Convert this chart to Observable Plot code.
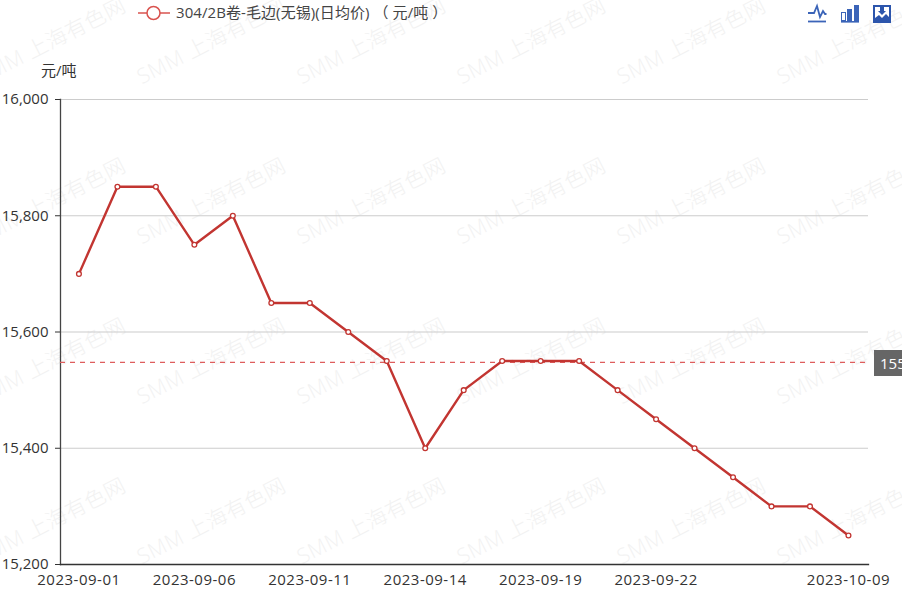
<!DOCTYPE html>
<html><head><meta charset="utf-8">
<script src="https://cdn.jsdelivr.net/npm/d3@7"></script>
<script src="https://cdn.jsdelivr.net/npm/@observablehq/plot@0.6"></script>
<style>
html,body{margin:0;padding:0;background:#fff}
#root{position:relative;width:902px;height:601px;overflow:hidden;font-family:"Open Sans","Noto Sans CJK SC",sans-serif;color:#333}
#root svg.chart{position:absolute;left:0;top:0;background:transparent}
#root svg.chart g[aria-label="x-axis tick label"] text{letter-spacing:.5px}
.wm{position:absolute;font-size:21px;font-weight:300;color:#f2f2f2;white-space:nowrap;transform:rotate(-27deg);transform-origin:left bottom;letter-spacing:.6px;line-height:26px}
.legend{position:absolute;left:138px;top:2px;font-size:15px;color:#444;white-space:nowrap;line-height:20px;display:flex;align-items:center;letter-spacing:.08px}
.unit{position:absolute;left:41px;top:60px;font-size:15px;color:#333;line-height:20px}
.markLabel{position:absolute;left:874px;width:60px;height:26px;background:#666;color:#fff;font-size:15px;line-height:26px;padding-left:6px}
.tools{position:absolute;left:0;top:0}
</style></head><body><div id="root"></div>
<script>
const dates=["2023-09-01","2023-09-04","2023-09-05","2023-09-06","2023-09-07","2023-09-08","2023-09-11","2023-09-12","2023-09-13","2023-09-14","2023-09-15","2023-09-18","2023-09-19","2023-09-20","2023-09-21","2023-09-22","2023-09-25","2023-09-26","2023-09-27","2023-09-28","2023-10-09"];
const prices=[15700,15850,15850,15750,15800,15650,15650,15600,15550,15400,15500,15550,15550,15550,15500,15450,15400,15350,15300,15300,15250];
const yTicks=[15200,15400,15600,15800,16000];
const xLabels=["2023-09-01","2023-09-06","2023-09-11","2023-09-14","2023-09-19","2023-09-22","2023-10-09"];
const seriesName="304/2B卷-毛边(无锡)(日均价) （ 元/吨 ）";
const unit="元/吨";
const watermark="SMM 上海有色网";
const meanValue=d3.mean(prices);
const rows=dates.map((d,i)=>({date:d,price:prices[i]}));
const font='"Open Sans","Noto Sans CJK SC",sans-serif';
const root=document.getElementById("root");

for(let r=0;r<4;r++)for(let c=0;c<6;c++){
  const s=document.createElement("div");s.className="wm";s.textContent=watermark;
  s.style.left=(-16+c*160)+"px";s.style.top=(63+r*160)+"px";root.appendChild(s);
}

const chart=Plot.plot({
  width:902,height:601,marginTop:99,marginBottom:37,marginLeft:60,marginRight:34,
  style:{fontFamily:font,fontSize:"15px",background:"transparent",color:"#333",overflow:"visible"},
  x:{type:"point",domain:dates,padding:0.5,round:false,range:[59.2,867.2]},
  y:{domain:[15200,16000]},
  marks:[
    Plot.ruleY(yTicks.slice(1),{stroke:"#ccc",strokeWidth:1.2}),
    Plot.axisY(yTicks,{tickSize:5,tickPadding:7,tickFormat:d3.format(","),stroke:"#333",fill:"#333",fontSize:15,label:null}),
    Plot.axisX(xLabels,{tickSize:0,tickPadding:10,fill:"#333",fontSize:15,label:null}),
    Plot.frame({anchor:"left",stroke:"#444",strokeWidth:1.3}),
    Plot.frame({anchor:"bottom",stroke:"#333",strokeWidth:1.3}),
    Plot.ruleY([meanValue],{stroke:"#de5d5d",strokeWidth:1.3,strokeDasharray:"5 5"}),
    Plot.line(rows,{x:"date",y:"price",stroke:"#c23531",strokeWidth:2.4,curve:"linear"}),
    Plot.dot(rows,{x:"date",y:"price",r:2.4,fill:"#fff",stroke:"#c23531",strokeWidth:1.3})
  ]
});
chart.classList.add("chart");
root.appendChild(chart);

const u=document.createElement("div");u.className="unit";u.textContent=unit;root.appendChild(u);

const lg=document.createElement("div");lg.className="legend";
lg.innerHTML='<svg width="32" height="20" style="margin-right:6px"><line x1="0" x2="32" y1="11" y2="11" stroke="#d9534f" stroke-width="1.5"/><circle cx="15.5" cy="11" r="6.5" fill="#fff" stroke="#d9534f" stroke-width="1.5"/></svg>';
lg.appendChild(document.createTextNode(seriesName));root.appendChild(lg);

const m=document.createElement("div");m.className="markLabel";m.textContent=meanValue.toFixed(2);
m.style.top=(chart.scale("y").apply(meanValue)-12)+"px";root.appendChild(m);

const t=document.createElement("div");t.className="tools";
t.innerHTML='<svg width="902" height="30" fill="none">'+
'<g stroke="#3b64b8" stroke-width="1.8"><path d="M808 13h6l3-7 3 11 3-6 2 3h1.5"/><line x1="808" x2="826" y1="21.5" y2="21.5"/></g>'+
'<g fill="#3b64b8"><rect x="841.5" y="12.5" width="4" height="8" fill="#fff" stroke="#3b64b8"/><rect x="847" y="9" width="5" height="12"/><rect x="854" y="5" width="5" height="16"/><rect x="841" y="21" width="18" height="1.6"/></g>'+
'<rect x="873" y="5" width="18" height="18" fill="#2c55ac"/><path fill="#fff" d="M875 7h14v10l-3-3-4 4-3-3-4 3z"/><path fill="#2c55ac" d="M880 7h4v4h2l-4 4-4-4h2z"/>'+
'</svg>';
root.appendChild(t);
</script></body></html>
